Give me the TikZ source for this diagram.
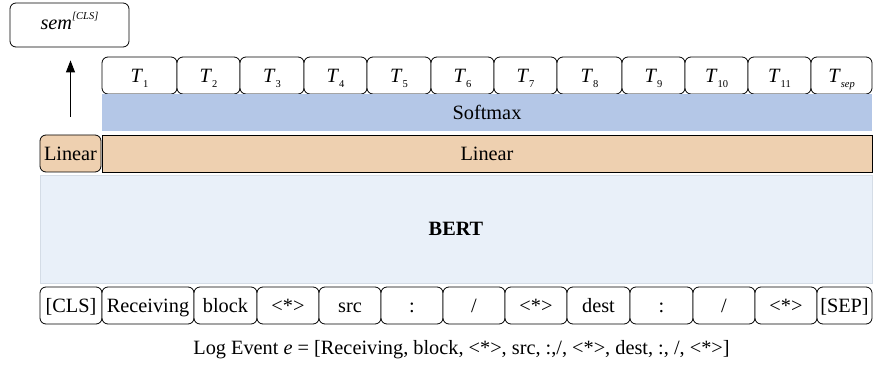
\documentclass[tikz,border=0pt]{standalone}
\usepackage{fontspec}
\setmainfont{Liberation Serif}
\usetikzlibrary{arrows.meta}
\definecolor{softblue}{HTML}{B4C7E7}
\definecolor{linorange}{HTML}{EED0B0}
\definecolor{bertfill}{HTML}{E9F0F9}
\definecolor{bertline}{HTML}{D4DCE6}
\newcommand{\Tlab}[1]{\textit{T}\raisebox{-0.55ex}{\fontsize{10.5}{12}\selectfont #1}}
\tikzset{
  box/.style={draw=black, line width=0.8pt, rounded corners=6pt, inner sep=0pt, fill=white, text height=15.5pt, text depth=1.5pt},
  band/.style={inner sep=0pt, text height=15.5pt, text depth=1.5pt},
  arr/.style={-{Triangle[length=12pt,width=9pt]}, line width=1pt},
}
\begin{document}
\begin{tikzpicture}[x=1pt,y=-1pt,font=\fontsize{20.3}{23}\selectfont]
\useasboundingbox (0,0) rectangle (873,366);
% sem box
\node[box, text height=13pt, text depth=4pt, minimum width=119pt, minimum height=44pt] (sem) at (69.5,25) {\textit{sem}\raisebox{1.1ex}{\fontsize{10.5}{12}\selectfont\textit{[CLS]}}};
% T row
\foreach \l/\r/\t [count=\i] in {102/177/1,177/240/2,240/304/3,304/367/4,367/431/5,431/494/6,494/557/7,557/622/8,622/685/9,685/748/10,748/811/11,811/872/\textit{sep}}{
  \pgfmathsetmacro{\w}{\r-\l}
  \pgfmathsetmacro{\c}{(\r+\l)/2}
  \node[box, minimum width=\w pt, minimum height=37pt] (t\i) at (\c,75.5) {\Tlab{\t}};
}
% Softmax band
\node[band, fill=softblue, minimum width=770pt, minimum height=37pt] (soft) at (487,112.5) {Softmax};
% Linear band
\node[band, fill=linorange, draw=black, line width=0.9pt, minimum width=770pt, minimum height=37pt] (lin) at (487,153.5) {Linear};
\node[box, fill=linorange, minimum width=61pt, minimum height=37pt] (ls) at (70.5,153.5) {Linear};
% BERT band
\node[band, fill=bertfill, draw=bertline, line width=0.6pt, minimum width=832pt, minimum height=108pt] (bert) at (456,229) {\textbf{BERT}};
% arrow
\draw[arr] ([yshift=18pt]ls.north) -- ([yshift=-13pt]ls.north |- sem.south);
% token row
\foreach \l/\r/\t [count=\i] in {40/102/{[CLS]},102/194/{Receiving},194/257/{block},257/319/{<*>},319/381/{src},381/443/{:},443/505/{/},505/567/{<*>},567/630/{dest},630/693/{:},693/755/{/},755/817/{<*>},817/872/{[SEP]}}{
  \pgfmathsetmacro{\w}{\r-\l}
  \pgfmathsetmacro{\c}{(\r+\l)/2}
  \node[box, minimum width=\w pt, minimum height=37pt] (w\i) at (\c,305.5) {\t};
}
% caption
\node[inner sep=0pt] (cap) at (461.5,350) {Log Event \textit{e} = [Receiving, block, <*>, src, :,/, <*>, dest, :, /, <*>]};
\end{tikzpicture}
\end{document}
